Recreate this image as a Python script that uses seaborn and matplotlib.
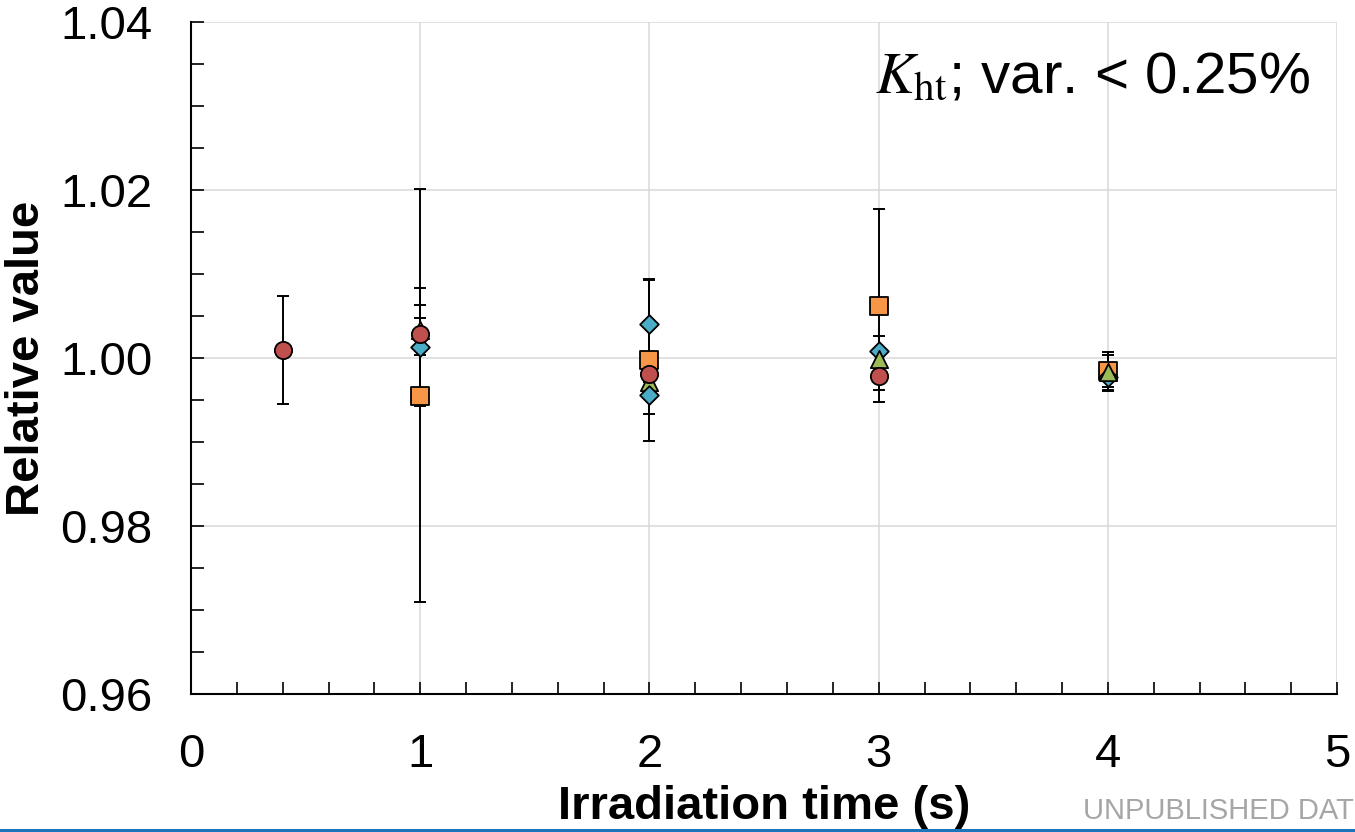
import pandas as pd
import matplotlib.pyplot as plt
import seaborn as sns
from matplotlib.ticker import MultipleLocator
from matplotlib.patches import Rectangle

# data (relative value +- error)
sq_x = [1, 2, 3, 4]
sq_y = [0.9955, 0.99975, 1.0062, 0.9984]
sq_err = [0.0246, 0.0096, 0.0115, 0.0023]

dm_x = [1, 2, 3, 4]
dm_y = [1.0013, 1.0041, 1.0008, 0.9977]
dm_err = [0.0070, 0.0052, 0.0018, 0.0012]

tr_x = [1, 2, 3, 4]
tr_y = [1.0033, 0.9971, 0.9999, 0.9983]
tr_err = [0.0030, 0.0012, 0.0012, 0.0021]

ci_x = [0.4, 1, 2, 3]
ci_y = [1.00095, 1.0029, 0.9981, 0.9978]
ci_err = [0.0064, 0.0019, 0.0010, 0.0016]

dm2_x = [2]
dm2_y = [0.9956]
dm2_err = [0.0023]

sns.set_theme(style="ticks")
plt.rcParams['font.family'] = ['Liberation Sans', 'DejaVu Sans']
plt.rcParams['mathtext.fontset'] = 'stix'
plt.rcParams['text.color'] = 'black'
plt.rcParams['axes.labelcolor'] = 'black'
plt.rcParams['xtick.color'] = 'black'
plt.rcParams['ytick.color'] = 'black'

fig = plt.figure(figsize=(13.55, 8.32), dpi=100)
ax = fig.add_axes([0.141, 0.1659, 0.8458, 0.8077])

# draw order matters: later series sit on top
series = [
    (sq_x, sq_y, sq_err, 's', '#F79646', 155),
    (dm_x, dm_y, dm_err, 'D', '#4BACC6', 90),
    (tr_x, tr_y, tr_err, '^', '#9BBB59', 155),
    (ci_x, ci_y, ci_err, 'o', '#C0504D', 155),
    (dm2_x, dm2_y, dm2_err, 'D', '#4BACC6', 90),
]

for x, y, err, mk, col, s in series:
    ax.errorbar(x, y, yerr=err, fmt='none', ecolor='black', elinewidth=1.4,
                capsize=4.5, capthick=1.4, zorder=2)

for x, y, err, mk, col, s in series:
    df = pd.DataFrame({'t': x, 'v': y})
    sns.scatterplot(data=df, x='t', y='v', marker=mk, color=col, s=s,
                    edgecolor='black', linewidth=1.3, zorder=3, ax=ax)

ax.set_xlim(0, 5)
ax.set_ylim(0.96, 1.04)
ax.xaxis.set_major_locator(MultipleLocator(1))
ax.xaxis.set_minor_locator(MultipleLocator(0.2))
ax.yaxis.set_major_locator(MultipleLocator(0.02))
ax.yaxis.set_minor_locator(MultipleLocator(0.005))
ax.yaxis.set_major_formatter(plt.FuncFormatter(lambda v, p: f"{v:.2f}"))

ax.grid(True, which='major', color='#D9D9D9', linewidth=1.1)
ax.set_axisbelow(True)
ax.tick_params(which='both', direction='in', length=9, width=1.2, color='black',
               labelsize=34, labelcolor='black', pad=28, top=False, right=False)
for side in ['top', 'right']:
    ax.spines[side].set_visible(False)
for side in ['left', 'bottom']:
    ax.spines[side].set_linewidth(1.5)
    ax.spines[side].set_color('black')

ax.set_xlabel("Irradiation time (s)", fontsize=34, fontweight='bold', labelpad=6)
ax.set_ylabel("Relative value", fontsize=34, fontweight='bold', labelpad=8)

ax.text(0.976, 0.894, r"$K_{\mathrm{ht}}$; var. < 0.25%", transform=ax.transAxes,
        ha='right', va='baseline', fontsize=42)

fig.text(1083 / 1355, 13 / 832, "UNPUBLISHED DAT", fontsize=21, color='#A6A6A6',
         ha='left', va='baseline')
fig.add_artist(Rectangle((0, 0), 1, 3 / 832, transform=fig.transFigure,
                         color='#1B75BC', linewidth=0))

fig.savefig("out.png", dpi=100)
